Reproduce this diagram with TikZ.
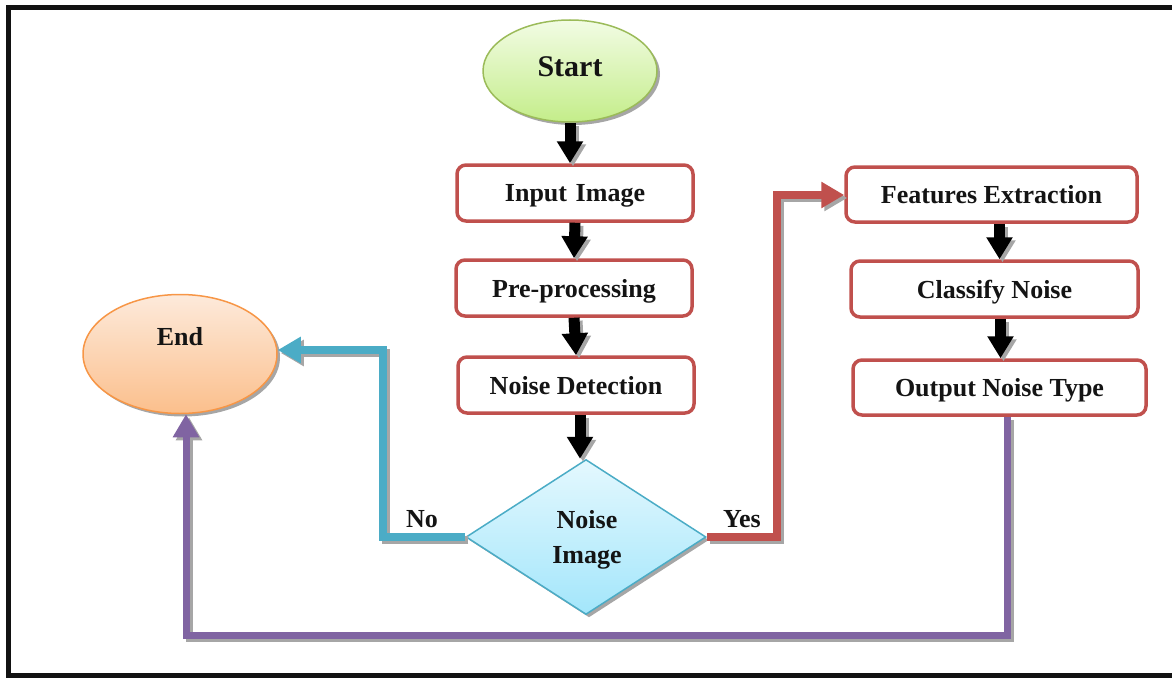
\documentclass[tikz,border=0pt]{standalone}
\usepackage{fontspec}
\setmainfont{Liberation Serif}
\usetikzlibrary{shapes.geometric,arrows.meta,shadows}
\definecolor{boxred}{HTML}{C0504D}
\definecolor{conblue}{HTML}{4BACC6}
\definecolor{conpurple}{HTML}{8064A2}
\definecolor{shadowgray}{HTML}{A6A6A6}
\definecolor{grnborder}{HTML}{9BBB59}
\definecolor{grntop}{HTML}{F2FCE4}
\definecolor{grnbot}{HTML}{C4ED8A}
\definecolor{orgborder}{HTML}{F79646}
\definecolor{orgtop}{HTML}{FDEADB}
\definecolor{orgbot}{HTML}{FBBF8C}
\definecolor{cyntop}{HTML}{E4F8FE}
\definecolor{cynbot}{HTML}{A3E6FB}
\newcommand\shadowedpath[2]{%
  \draw[#1, draw=shadowgray, transform canvas={xshift=3pt,yshift=-3pt}] #2;
  \draw[#1] #2;}
\tikzset{
  lbl/.style={font=\fontsize{26}{35}\selectfont\bfseries, text=black!92, inner sep=0pt, align=center},
  stepbox/.style={draw=boxred, line width=3.5pt, rounded corners=9pt, fill=white,
    inner sep=0pt, text depth=0pt, text=black!92, font=\fontsize{26}{30}\selectfont\bfseries},
  shad/.style={drop shadow={shadow xshift=3pt, shadow yshift=-3pt, fill=shadowgray, opacity=1}},
  blackarr/.style={line width=11pt, draw=black, -{Triangle[length=22pt,width=25pt]}},
  colarr/.style={line width=8pt, line join=miter, -{Triangle[length=23pt,width=25pt]}},
}
\begin{document}
\begin{tikzpicture}[x=1pt,y=-1pt]
\useasboundingbox (0,0) rectangle (1172,677);
\begin{scope}
\clip (0,0) rectangle (1172,677);
\draw[line width=5pt, black!93] (8.5,7.5) rectangle (1200,675.5);
\end{scope}

% nodes
\node[ellipse, draw=grnborder, line width=1.5pt, top color=grntop, bottom color=grnbot,
  minimum width=174pt, minimum height=102pt, shad] (start) at (570,71) {};
\node[lbl, font=\fontsize{30}{34}\selectfont\bfseries] (starttxt) at (570,67) {Start};

\node[stepbox, minimum width=236pt, minimum height=56pt] (input) at (575,193) {Input\,\,Image};
\node[stepbox, minimum width=236pt, minimum height=56pt] (pre) at (574,288) {Pre-processing};
\node[stepbox, minimum width=236pt, minimum height=56pt] (ndet) at (576,385) {Noise Detection};

\node[diamond, draw=conblue, line width=1.5pt, top color=cyntop, bottom color=cynbot,
  minimum width=240pt, minimum height=155pt, inner sep=0pt, shad] (dia) at (586,537) {};
\node[lbl] (diatxt) at (587,540) {Noise\\Image};

\node[stepbox, minimum width=291pt, minimum height=55pt] (fe) at (991.5,194.5) {Features Extraction};
\node[stepbox, minimum width=287pt, minimum height=56pt] (cn) at (994.5,289) {Classify Noise};
\node[stepbox, minimum width=293pt, minimum height=55pt] (ont) at (999.5,387.5) {Output Noise Type};

\node[ellipse, draw=orgborder, line width=1.5pt, top color=orgtop, bottom color=orgbot,
  minimum width=194pt, minimum height=119pt, shad] (end) at (180,354) {};
\node[lbl] (endtxt) at (180,337) {End};

\node[lbl] (nolbl) at (422,519) {No};
\node[lbl] (yeslbl) at (742,519) {Yes};

% black arrows
\shadowedpath{blackarr}{(start.south) -- (start.south |- input.north)}
\shadowedpath{blackarr}{(input.south) -- (pre.north)}
\shadowedpath{blackarr}{(pre.south) -- (ndet.north)}
\shadowedpath{blackarr}{([xshift=4pt]ndet.south) -- ([xshift=4pt]ndet.south |- dia.north)}
\shadowedpath{blackarr}{([xshift=8pt]fe.south) -- ([xshift=8pt]fe.south |- cn.north)}
\shadowedpath{blackarr}{([xshift=6pt]cn.south) -- ([xshift=6pt]cn.south |- ont.north)}

% coloured connectors
\coordinate (nocorner) at (383,350);
\shadowedpath{colarr, draw=conblue}{(dia.west) -| (nocorner) -- (nocorner -| end.east)}

\coordinate (yescorner) at (777,195);
\shadowedpath{colarr, draw=boxred}{(dia.east) -| (yescorner) -- (yescorner -| fe.west)}

\coordinate (pcorner) at (186,635);
\shadowedpath{colarr, draw=conpurple, line width=7pt}{([xshift=8pt]ont.south) |- (pcorner) -- (pcorner |- end.south)}
\end{tikzpicture}
\end{document}
